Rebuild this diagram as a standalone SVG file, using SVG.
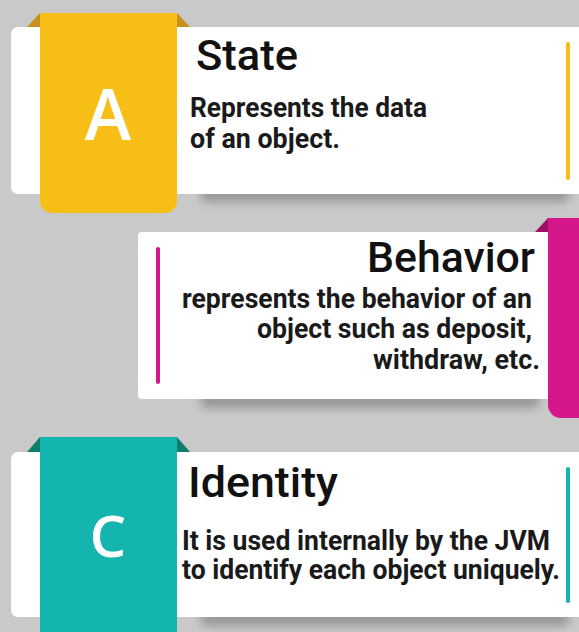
<svg xmlns="http://www.w3.org/2000/svg" width="579" height="632" viewBox="0 0 579 632">
<defs>
<filter id="sh" x="-10%" y="-50%" width="120%" height="200%"><feGaussianBlur stdDeviation="5"/></filter>
<style>
.card{fill:#ffffff}
.title{font-family:Roboto,"Liberation Sans",sans-serif;font-weight:500;font-size:42px;fill:#111}
.body{font-family:Roboto,"Liberation Sans",sans-serif;font-weight:700;font-size:27px;fill:#1a1a1a}
.letter{font-family:"Open Sans","Liberation Sans",sans-serif;font-weight:600;fill:#fff;text-anchor:middle}
.shadow{fill:#6e6e6e;opacity:0.55}
</style>
</defs>
<rect width="579" height="632" fill="#c9c9c9"/>

<g id="card-state">
<rect class="shadow" x="200" y="186" width="370" height="16" rx="8" filter="url(#sh)"/>
<rect class="card" x="11" y="27" width="580" height="167" rx="7"/>
<polygon points="27,27 40,13 40,27" fill="#c8901c"/>
<polygon points="177,13 190,27 177,27" fill="#c8901c"/>
<path d="M40,13 H177 V201 a12,12 0 0 1 -12,12 H52 a12,12 0 0 1 -12,-12 Z" fill="#f7bf16"/>
<text class="letter" x="108" y="140" font-size="70">A</text>
<text class="title" x="196" y="70" textLength="102" lengthAdjust="spacingAndGlyphs">State</text>
<text class="body" x="190" y="117" textLength="237" lengthAdjust="spacingAndGlyphs">Represents the data</text>
<text class="body" x="190" y="148" textLength="150" lengthAdjust="spacingAndGlyphs">of an object.</text>
<rect x="566" y="42" width="4" height="138" rx="2" fill="#f7bf16"/>
</g>

<g id="card-behavior">
<rect class="shadow" x="200" y="392" width="340" height="16" rx="8" filter="url(#sh)"/>
<rect class="card" x="138" y="232" width="416" height="167" rx="4"/>
<polygon points="535,232 548,218 548,232" fill="#9c1163"/>
<path d="M548,218 H590 V418 H561 a13,13 0 0 1 -13,-13 Z" fill="#d5178b"/>
<rect x="156" y="247" width="4" height="137" rx="2" fill="#d5178b"/>
<text class="title" x="535" y="272" text-anchor="end" textLength="168" lengthAdjust="spacingAndGlyphs">Behavior</text>
<text class="body" x="182" y="308" textLength="350" lengthAdjust="spacingAndGlyphs">represents the behavior of an</text>
<text class="body" x="257" y="338" textLength="275" lengthAdjust="spacingAndGlyphs">object such as deposit,</text>
<text class="body" x="373" y="369" textLength="167" lengthAdjust="spacingAndGlyphs">withdraw, etc.</text>
</g>

<g id="card-identity">
<rect class="shadow" x="200" y="610" width="370" height="16" rx="8" filter="url(#sh)"/>
<rect class="card" x="11" y="452" width="580" height="165" rx="7"/>
<polygon points="27,452 40,437 40,452" fill="#0f7d6e"/>
<polygon points="177,437 190,452 177,452" fill="#0f7d6e"/>
<path d="M40,437 H177 V640 H40 Z" fill="#14b5ae"/>
<text class="letter" x="108" y="557" font-size="58">C</text>
<text class="title" x="188" y="497" textLength="150" lengthAdjust="spacingAndGlyphs">Identity</text>
<text class="body" x="182" y="550" textLength="368" lengthAdjust="spacingAndGlyphs">It is used internally by the JVM</text>
<text class="body" x="182" y="579" textLength="378" lengthAdjust="spacingAndGlyphs">to identify each object uniquely.</text>
<rect x="566" y="467" width="4" height="136" rx="2" fill="#14b5ae"/>
</g>
</svg>
